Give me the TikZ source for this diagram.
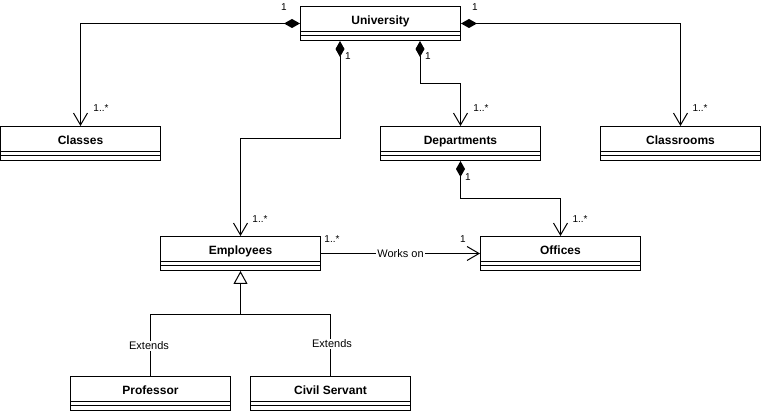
\documentclass[tikz,border=0pt]{standalone}
\usepackage{fontspec}
\setmainfont{Liberation Sans}
\usetikzlibrary{arrows.meta,calc}
\tikzset{
  classbox/.style={draw, line width=1pt, minimum width=160pt, minimum height=34pt, anchor=north west, inner sep=0pt},
  classtitle/.style={font=\bfseries\fontsize{12pt}{14pt}\selectfont, inner sep=0pt, anchor=base},
  conn/.style={line width=1pt, line join=miter},
  comp/.style={conn, {Diamond[length=16pt,width=9pt]}-{Straight Barb[length=12pt,width=14pt,line width=1pt]}},
  assoc/.style={conn, -{Straight Barb[length=12pt,width=14pt,line width=1pt]}},
  gen/.style={conn, -{Triangle[open,length=13pt,width=14pt,fill=white]}},
  mult/.style={font=\fontsize{10pt}{12pt}\selectfont, inner sep=0pt},
  elabel/.style={font=\fontsize{11pt}{13pt}\selectfont, fill=white, inner sep=1pt},
}
\newcommand{\umlbox}[4]{%
  \node[classbox] (#1) at (#2,#3) {};
  \node[classtitle] (#1-t) at ($(#1.north)+(0,18.5)$) {#4};
  \draw[line width=1pt] ($(#1.north west)+(0,26)$) -- ($(#1.north east)+(0,26)$);
  \draw[line width=1pt] ($(#1.north west)+(0,30)$) -- ($(#1.north east)+(0,30)$);
}
\begin{document}
\begin{tikzpicture}[x=1pt,y=-1pt]
\useasboundingbox (0,0) rectangle (761,411);
\umlbox{uni}{300}{6}{University}
\umlbox{cls}{0}{126}{Classes}
\umlbox{dep}{380}{126}{Departments}
\umlbox{crm}{600}{126}{Classrooms}
\umlbox{emp}{160}{236}{Employees}
\umlbox{off}{480}{236}{Offices}
\umlbox{prof}{70}{376}{Professor}
\umlbox{civ}{250}{376}{Civil Servant}

\coordinate (ub1) at ($(uni.south west)+(40,0)$);
\coordinate (ub2) at ($(uni.south west)+(120,0)$);

% compositions
\draw[comp] (uni.west) -| (cls.north);
\draw[comp] (uni.east) -| (crm.north);
\draw[comp] (ub1) -- ($(ub1)+(0,98)$) -| (emp.north);
\draw[comp] (ub2) -- ($(ub2)+(0,43)$) -| (dep.north);
\draw[comp] (dep.south) -- ($(dep.south)+(0,38)$) -| (off.north);

% association
\draw[assoc] (emp.east) -- node[elabel] {Works on} (off.west);

% generalization
\coordinate (gp) at ($(prof.north)+(0,-61)$);
\coordinate (gc) at ($(civ.north)+(0,-61)$);
\draw[gen] (prof.north) -- (gp) -| (emp.south);
\draw[conn] (civ.north) -- (gc) -- (gp -| emp.south);
\node[elabel] at (149,346) {Extends};
\node[elabel] at (332,344) {Extends};

% multiplicities
\node[mult] at (284,7) {1};
\node[mult] at (475,7) {1};
\node[mult] at (348,56) {1};
\node[mult] at (428,56) {1};
\node[mult] at (101,108) {1..*};
\node[mult] at (481,108) {1..*};
\node[mult] at (700,108) {1..*};
\node[mult] at (468,177) {1};
\node[mult] at (260,219) {1..*};
\node[mult] at (580,219) {1..*};
\node[mult] at (332,239) {1..*};
\node[mult] at (463,239) {1};
\end{tikzpicture}
\end{document}
